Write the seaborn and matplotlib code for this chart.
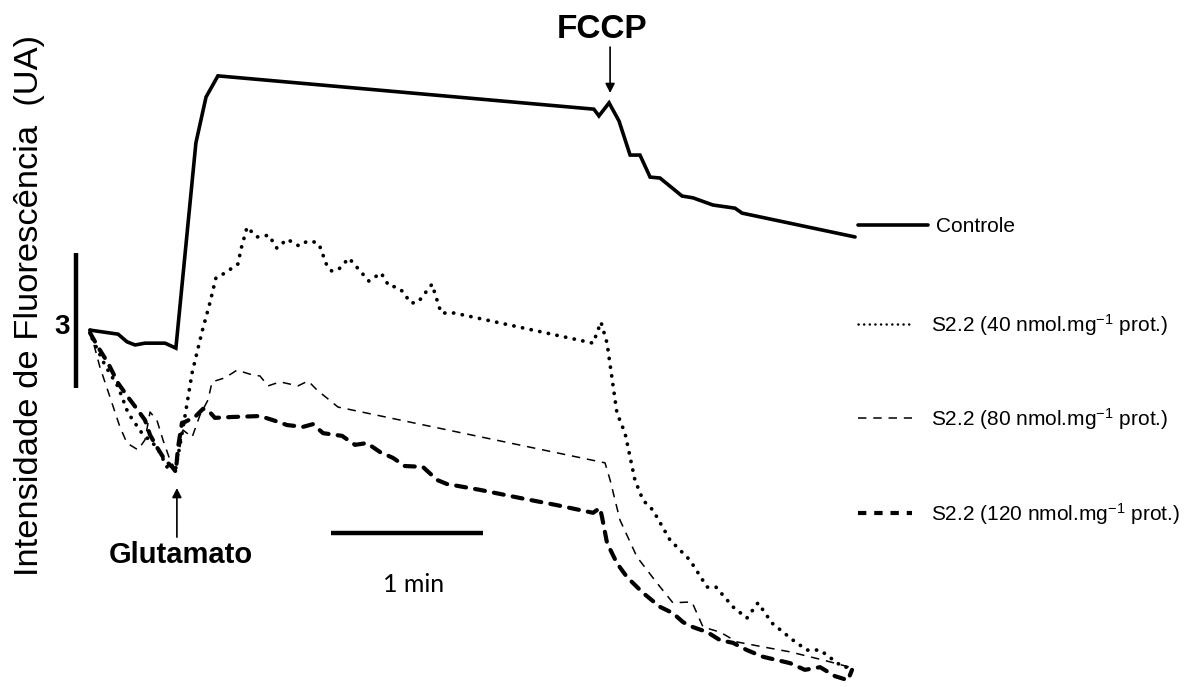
import numpy as np
import pandas as pd
import matplotlib
matplotlib.use("Agg")
import matplotlib.pyplot as plt
from matplotlib.lines import Line2D
import seaborn as sns

# ---- time (s) and fluorescence (UA) traces ----
controle_t = [0, 11.1, 14.6, 17.8, 21.7, 29.6, 33.9, 41.8, 45.8, 50.5, 198.9, 200.9,
              204.9, 208.8, 213.2, 217.1, 221.1, 225.0, 233.7, 238.0, 245.9, 254.6,
              257.4, 302.0]
controle_f = [8.22, 8.13, 7.96, 7.89, 7.93, 7.93, 7.82, 12.38, 13.40, 13.87, 13.13, 12.98,
              13.27, 12.87, 12.11, 12.11, 11.62, 11.60, 11.20, 11.16, 11.00, 10.93,
              10.82, 10.29]

s40_t = [0, 0.8, 5.9, 11.1, 15.0, 20.5, 26.4, 30.4, 33.9,
         36.7, 40.3, 44.2, 47.4, 49.7, 53.3, 56.1, 58.4, 59.6, 62.0,
         63.9, 65.9, 70.7, 72.2, 73.8, 77.8, 82.5, 85.3, 87.6, 90.4,
         93.6, 95.5, 98.3, 102.2, 110.1, 114.9, 118.0, 120.8, 123.2, 126.7,
         129.5, 135.0, 138.6, 143.7, 152.8, 198.6, 201.7, 204.1, 208.0, 211.2,
         215.1, 218.3, 222.2, 228.9, 236.8, 243.6, 247.1, 253.8, 259.3, 263.7,
         269.2, 277.5, 283.0, 288.2, 297.2, 300.0]
s40_f = [8.22, 8.04, 7.44, 6.96, 6.38, 5.93, 5.62, 5.18, 5.16,
         6.04, 7.27, 8.18, 8.84, 9.38, 9.49, 9.60, 9.69, 10.02, 10.51,
         10.40, 10.29, 10.33, 10.18, 10.04, 10.24, 10.09, 10.18, 10.20, 10.13,
         9.64, 9.53, 9.58, 9.82, 9.31, 9.49, 9.20, 9.18, 9.09, 8.82,
         8.84, 9.24, 8.60, 8.60, 8.49, 7.93, 8.40, 7.93, 6.38, 5.93,
         4.89, 4.44, 4.22, 3.56, 3.11, 2.51, 2.51, 2.07, 1.82, 2.16,
         1.71, 1.33, 1.11, 1.11, 0.73, 0.73]

s80_t = [0, 3.9, 7.9, 11.8, 14.6, 18.9, 21.7, 23.7, 26.4, 28.8,
         31.6, 33.9, 36.7, 40.3, 43.4, 46.6, 48.2, 53.3, 58.0, 63.2,
         67.1, 70.3, 75.0, 82.1, 86.1, 89.6, 97.9, 203.3, 205.3, 209.2,
         215.9, 223.8, 230.1, 237.6, 242.0, 248.7, 255.4, 265.7, 276.3, 289.3,
         301.2]
s80_f = [8.22, 7.40, 6.73, 6.07, 5.71, 5.56, 5.78, 6.40, 6.22, 5.78,
         5.33, 5.11, 6.00, 5.84, 6.33, 6.67, 7.07, 7.16, 7.33, 7.24,
         7.20, 6.98, 7.07, 6.98, 7.09, 6.89, 6.51, 5.27, 4.89, 4.00,
         3.18, 2.60, 2.16, 2.18, 1.62, 1.51, 1.29, 1.18, 1.07, 0.89,
         0.71]

s120_t = [0, 3.2, 7.1, 11.1, 15.0, 18.9, 21.7, 23.7, 26.4, 29.6,
          32.4, 33.9, 34.7, 36.3, 37.5, 41.4, 44.6, 46.6, 49.3, 56.4,
          67.1, 72.2, 77.8, 84.1, 88.0, 92.0, 99.5, 104.6, 109.3, 114.5,
          119.6, 124.3, 131.4, 137.0, 140.9, 153.9, 169.7, 184.3, 198.6, 201.3,
          202.1, 204.1, 208.0, 212.0, 218.3, 225.0, 230.1, 234.1, 238.0, 243.6,
          248.7, 253.8, 259.3, 265.7, 276.3, 282.2, 288.2, 294.1, 299.2, 300.8]
s120_f = [8.16, 7.84, 7.49, 7.04, 6.73, 6.44, 6.22, 5.89, 5.62, 5.33,
          5.18, 5.07, 5.60, 6.16, 6.18, 6.29, 6.47, 6.44, 6.27, 6.29,
          6.31, 6.22, 6.11, 6.07, 6.13, 5.93, 5.87, 5.67, 5.71, 5.51,
          5.38, 5.20, 5.18, 4.89, 4.80, 4.67, 4.49, 4.33, 4.16, 4.27,
          4.07, 3.49, 3.04, 2.73, 2.38, 2.07, 1.93, 1.73, 1.62, 1.51,
          1.33, 1.27, 1.11, 0.96, 0.82, 0.67, 0.73, 0.53, 0.44, 0.67]

labels = ["Controle",
          r"S2.2 (40 nmol.mg$^{\mathrm{-1}}$ prot.)",
          r"S2.2 (80 nmol.mg$^{\mathrm{-1}}$ prot.)",
          r"S2.2 (120 nmol.mg$^{\mathrm{-1}}$ prot.)"]

glutamato_t = 34.3
fccp_t = 205.3
scale_f = 3      # UA
scale_t = 60     # s

# ---- style ----
sns.set_style("white")
plt.rcParams["font.family"] = ["Liberation Sans", "DejaVu Sans"]
plt.rcParams["text.color"] = "black"
plt.rcParams["mathtext.fontset"] = "custom"
plt.rcParams["mathtext.rm"] = "Liberation Sans"
plt.rcParams["mathtext.it"] = "Liberation Sans:italic"

W, H = 1194, 687
fig = plt.figure(figsize=(W / 100, H / 100), dpi=100)
ax = fig.add_axes([0, 0, 1, 1])
ax.set_xlim(-35.53, 435.8)
ax.set_ylim(0.289, 15.556)
ax.axis("off")

def fpos(x, y):
    return x / W, 1 - y / H

styles = [
    dict(lw=2.6, linestyle="-", solid_joinstyle="miter"),
    dict(lw=2.7, linestyle=(0, (0.05, 2.3)), dash_capstyle="round"),
    dict(lw=1.1, linestyle=(0, (5.5, 4.5))),
    dict(lw=3.0, linestyle=(0, (2.4, 2.2)), dash_capstyle="round"),
]
key_styles = [
    styles[0],
    dict(lw=1.8, linestyle=(0, (0.05, 2.2)), dash_capstyle="round"),
    styles[2],
    dict(lw=3.0, linestyle=(0, (2.0, 1.9))),
]
series = [(controle_t, controle_f), (s40_t, s40_f), (s80_t, s80_f), (s120_t, s120_f)]

for (t, f), lab, st in zip(series, labels, styles):
    df = pd.DataFrame({"tempo": t, "fluor": f})
    sns.lineplot(data=df, x="tempo", y="fluor", ax=ax, color="black",
                 sort=False, estimator=None, **st)

# scale bars
ax.plot([-5.53, -5.53], [6.93, 6.93 + scale_f], color="black", lw=3.2, solid_capstyle="butt")
ax.text(-8.0, 8.3, str(scale_f), fontsize=20, fontweight="bold", ha="right", va="center")
ax.plot([95.1, 95.1 + scale_t], [3.71, 3.71], color="black", lw=3.2, solid_capstyle="butt")
fig.text(*fpos(414, 584), "1 min", fontsize=18, family=["Lato", "DejaVu Sans"],
         ha="center", va="center")

# event arrows
arrow = dict(arrowstyle="-|>,head_length=0.55,head_width=0.28", color="black",
             lw=1.2, shrinkA=0, shrinkB=0)
ax.annotate("", xy=(glutamato_t, 4.71), xytext=(glutamato_t, 3.62),
            arrowprops=arrow, annotation_clip=False)
ax.text(glutamato_t + 1.5, 3.22, "Glutamato", fontsize=21, fontweight="bold",
        ha="center", va="center")
ax.annotate("", xy=(fccp_t, 13.49), xytext=(fccp_t, 14.51),
            arrowprops=arrow, annotation_clip=False)
ax.text(fccp_t - 3, 14.9, "FCCP", fontsize=24, fontweight="bold",
        ha="center", va="center")

# y label
fig.text(*fpos(30, 306), "Intensidade de Fluorescência  (UA)", fontsize=24.8,
         rotation=90, ha="center", va="center")

# key
key_y = [225, 324, 418, 513]
key_x1 = [928, 910, 912, 912]
for st, yy, x1, lab in zip(key_styles, key_y, key_x1, labels):
    (xa, ya), (xb, yb) = fpos(858, yy), fpos(x1, yy)
    fig.add_artist(Line2D([xa, xb], [ya, yb], color="black", transform=fig.transFigure, **st))
    tx = 936 if lab == "Controle" else 931
    fig.text(*fpos(tx, yy + 1), lab, fontsize=15, ha="left", va="center")

fig.savefig("out.png", dpi=100)
